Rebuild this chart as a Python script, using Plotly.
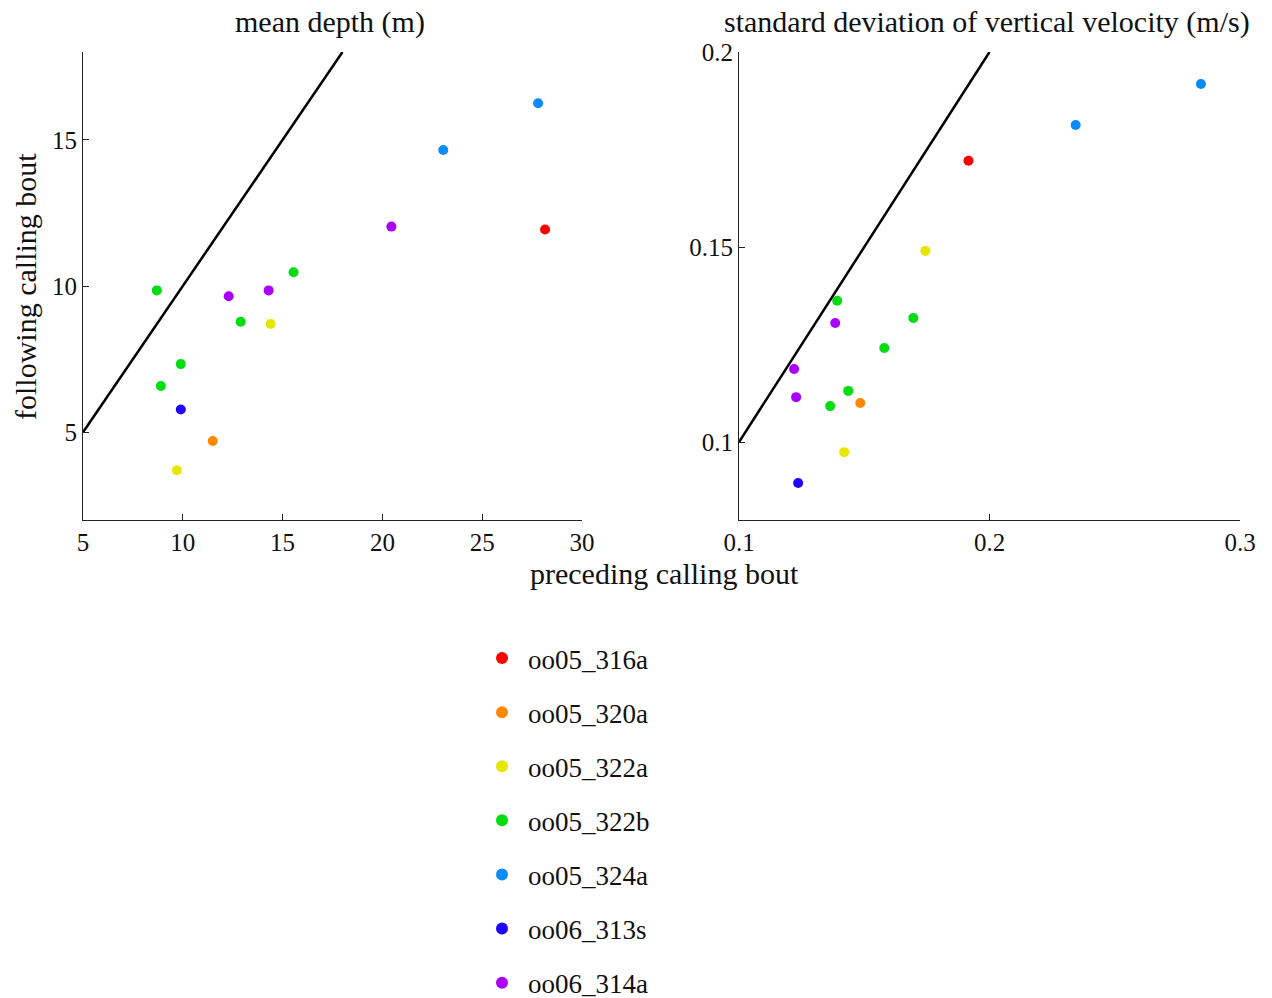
import plotly.graph_objects as go

groups = ["oo05_316a", "oo05_320a", "oo05_322a", "oo05_322b", "oo05_324a", "oo06_313s", "oo06_314a"]
colors = ["#ff0000", "#ff8800", "#e6e600", "#00dd11", "#0a8cff", "#2200ff", "#aa00ff"]

# mean depth (m): preceding (x) vs following (y)
depth_x = {
    "oo05_316a": [28.15],
    "oo05_320a": [11.5],
    "oo05_322a": [9.7, 14.4],
    "oo05_322b": [8.7, 8.9, 9.9, 12.9, 15.55],
    "oo05_324a": [23.05, 27.8],
    "oo06_313s": [9.9],
    "oo06_314a": [12.3, 14.3, 20.45],
}
depth_y = {
    "oo05_316a": [11.93],
    "oo05_320a": [4.7],
    "oo05_322a": [3.7, 8.7],
    "oo05_322b": [9.85, 6.58, 7.33, 8.78, 10.47],
    "oo05_324a": [14.65, 16.25],
    "oo06_313s": [5.78],
    "oo06_314a": [9.65, 9.85, 12.03],
}

# standard deviation of vertical velocity (m/s)
sdv_x = {
    "oo05_316a": [0.1916],
    "oo05_320a": [0.1484],
    "oo05_322a": [0.142, 0.1744],
    "oo05_322b": [0.1364, 0.1392, 0.1436, 0.158, 0.1696],
    "oo05_324a": [0.2344, 0.2844],
    "oo06_313s": [0.1236],
    "oo06_314a": [0.122, 0.1228, 0.1384],
}
sdv_y = {
    "oo05_316a": [0.1721],
    "oo05_320a": [0.110],
    "oo05_322a": [0.0974, 0.149],
    "oo05_322b": [0.1092, 0.1362, 0.1131, 0.1241, 0.1318],
    "oo05_324a": [0.1813, 0.1918],
    "oo06_313s": [0.0895],
    "oo06_314a": [0.1187, 0.1115, 0.1305],
}

depth_line = [5, 18]
sdv_line = [0.1, 0.2]

FONT = "Liberation Serif, EB Garamond, Garamond, serif"

fig = go.Figure()

for g, c in zip(groups, colors):
    fig.add_trace(go.Scatter(
        x=depth_x[g], y=depth_y[g], mode="markers", name=g,
        legendgroup=g, showlegend=True,
        marker=dict(color=c, size=10, line=dict(width=0)),
        xaxis="x", yaxis="y"))
    fig.add_trace(go.Scatter(
        x=sdv_x[g], y=sdv_y[g], mode="markers", name=g,
        legendgroup=g, showlegend=False,
        marker=dict(color=c, size=10, line=dict(width=0)),
        xaxis="x2", yaxis="y2"))

fig.add_trace(go.Scatter(x=depth_line, y=depth_line, mode="lines",
                         line=dict(color="black", width=2.5), showlegend=False,
                         xaxis="x", yaxis="y"))
fig.add_trace(go.Scatter(x=sdv_line, y=sdv_line, mode="lines",
                         line=dict(color="black", width=2.5), showlegend=False,
                         xaxis="x2", yaxis="y2"))

W, H = 1272, 998
ydom = [1 - 520 / H, 1 - 52 / H]

axis_common = dict(showgrid=False, zeroline=False, showline=True, linecolor="#222",
                   linewidth=1, ticks="inside", ticklen=6, tickcolor="#222", automargin=False,
                   tickfont=dict(size=25, color="#111", family=FONT))

fig.update_layout(
    width=W, height=H,
    paper_bgcolor="white", plot_bgcolor="white",
    margin=dict(l=0, r=0, t=0, b=0, autoexpand=False),
    font=dict(family=FONT, color="#111"),
    xaxis=dict(domain=[83 / W, 582 / W], range=[5, 30], tickvals=[5, 10, 15, 20, 25, 30],
               anchor="y", **axis_common),
    yaxis=dict(domain=ydom, range=[2, 18], tickvals=[5, 10, 15], anchor="x", **axis_common),
    xaxis2=dict(domain=[739 / W, 1240 / W], range=[0.1, 0.3], tickvals=[0.1, 0.2, 0.3],
                anchor="y2", **axis_common),
    yaxis2=dict(domain=ydom, range=[0.08, 0.2], tickvals=[0.1, 0.15, 0.2], anchor="x2",
                **axis_common),
    showlegend=True,
    legend=dict(x=476 / W, y=1 - 634 / H, xanchor="left", yanchor="top",
                font=dict(size=27, family=FONT, color="#111"),
                tracegroupgap=16, itemsizing="constant", itemwidth=42,
                bgcolor="rgba(0,0,0,0)"),
    annotations=[
        dict(text="mean depth (m)", x=330 / W, y=1 - 22 / H, xref="paper", yref="paper",
             showarrow=False, font=dict(size=30, family=FONT, color="#111"),
             xanchor="center", yanchor="middle"),
        dict(text="standard deviation of vertical velocity (m/s)", x=987 / W, y=1 - 22 / H,
             xref="paper", yref="paper", showarrow=False,
             font=dict(size=30, family=FONT, color="#111"),
             xanchor="center", yanchor="middle"),
        dict(text="preceding calling bout", x=664 / W, y=1 - 573 / H, xref="paper", yref="paper",
             showarrow=False, font=dict(size=30, family=FONT, color="#111"),
             xanchor="center", yanchor="middle"),
        dict(text="following calling bout", x=25 / W, y=1 - 287 / H, xref="paper", yref="paper",
             showarrow=False, textangle=-90, font=dict(size=30, family=FONT, color="#111"),
             xanchor="center", yanchor="middle"),
    ],
)

fig.write_html("out.html", config={"displayModeBar": False},
               post_script="document.body.style.margin='0px';")
